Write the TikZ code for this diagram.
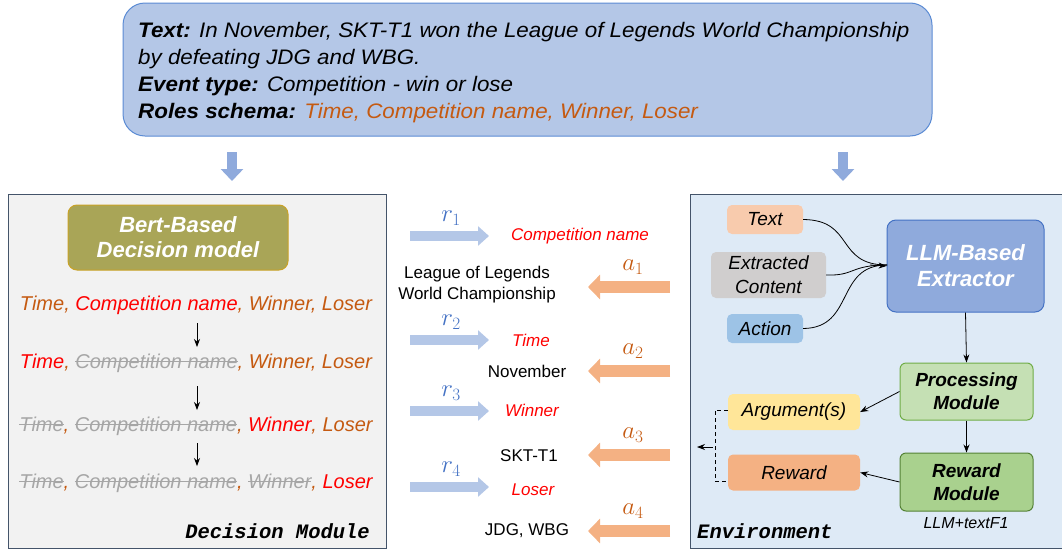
\documentclass[tikz,border=0pt]{standalone}
\usepackage{fontspec}
\setmainfont{Liberation Sans}
\setmonofont{Liberation Mono}
\usetikzlibrary{arrows.meta}
\newcommand\fsz[2]{\fontsize{#1}{#2}\selectfont}
\definecolor{topfill}{HTML}{B4C7E7}
\definecolor{topdraw}{HTML}{5B8BD4}
\definecolor{downblue}{HTML}{8FAADC}
\definecolor{panelL}{HTML}{F2F2F2}
\definecolor{panelR}{HTML}{DEEAF6}
\definecolor{paneldraw}{HTML}{44546A}
\definecolor{olive}{HTML}{A9A557}
\definecolor{olivedraw}{HTML}{C9A227}
\definecolor{roleor}{HTML}{C55A11}
\definecolor{rolered}{HTML}{FF0000}
\definecolor{rolegray}{HTML}{A6A6A6}
\definecolor{rblue}{HTML}{4472C4}
\definecolor{rarrow}{HTML}{B4C7E7}
\definecolor{aarrow}{HTML}{F4B183}
\definecolor{txtfill}{HTML}{F8CBAD}
\definecolor{extfill}{HTML}{D0CECE}
\definecolor{actfill}{HTML}{9DC3E6}
\definecolor{llmfill}{HTML}{8FAADC}
\definecolor{llmdraw}{HTML}{4472C4}
\definecolor{procfill}{HTML}{C5E0B4}
\definecolor{procdraw}{HTML}{70AD47}
\definecolor{rewmfill}{HTML}{A9D18E}
\definecolor{rewmdraw}{HTML}{548235}
\definecolor{argfill}{HTML}{FFE699}
\definecolor{rewfill}{HTML}{F4B183}
\newcommand\gs[1]{\textcolor{rolegray}{\setbox0\hbox{#1}\rlap{\rule[0.3em]{\wd0}{1.2pt}}\box0}}
\newcommand\ro[1]{\textcolor{roleor}{#1}}
\newcommand\rr[1]{\textcolor{rolered}{#1}}
\begin{document}
\begin{tikzpicture}[x=1pt,y=-1pt,
  panel/.style={draw=paneldraw, line width=1pt},
  smallbox/.style={rounded corners=5pt, inner sep=0pt, font=\fsz{19}{23}\itshape, align=center},
  modbox/.style={rounded corners=9pt, inner sep=0pt, line width=1pt, font=\fsz{20}{24}\bfseries\itshape, align=center},
  rarr/.style={rarrow, line width=10pt, -{Triangle[width=19pt,length=11pt]}},
  aarr/.style={aarrow, line width=12pt, -{Triangle[width=24pt,length=12pt]}},
  darr/.style={downblue, line width=10pt, -{Triangle[width=22pt,length=12pt]}},
  roles/.style={font=\fsz{20}{24}\itshape, inner sep=0pt},
  midred/.style={font=\fsz{17}{20}\itshape, text=rolered, inner sep=0pt},
  midblk/.style={font=\fsz{17}{21}, align=center, inner sep=0pt},
  conn/.style={-{Stealth[length=8pt,width=6pt]}, line width=0.8pt},
  mono/.style={font=\fsz{20.5}{24}\ttfamily\bfseries\itshape, inner sep=0pt},
  toptext/.style={anchor=base west, font=\fsz{21}{24}\itshape, inner sep=0pt, transform shape}
]
\useasboundingbox (0,0) rectangle (1062,549);
% top box
\draw[fill=topfill, draw=topdraw, line width=1pt, rounded corners=22pt] (123,3) rectangle (932,136);
\begin{scope}[shift={(138,0)}, xscale=1.065]
\node[toptext] (l1) at (0,37) {\textbf{Text:} In November, SKT-T1 won the League of Legends World Championship};
\node[toptext] (l2) at (0,64) {by defeating JDG and WBG.};
\node[toptext] (l3) at (0,91) {\textbf{Event type:} Competition - win or lose};
\node[toptext] (l4) at (0,118) {\textbf{Roles schema:} \ro{Time, Competition name, Winner, Loser}};
\end{scope}
% down arrows
\coordinate (d1s) at (232,152); \coordinate (d1e) at (232,181);
\coordinate (d2s) at (843,152); \coordinate (d2e) at (843,181);
\draw[darr] (d1s) -- (d1e);
\draw[darr] (d2s) -- (d2e);
% panels
\draw[panel, fill=panelL] (8,194) rectangle (386,548);
\draw[panel, fill=panelR] (690,194) rectangle (1066,548);
% Bert box
\node[modbox, fill=olive, draw=olivedraw, text=white, minimum width=220pt, minimum height=65pt, font=\fsz{22}{25}\bfseries\itshape] (bert) at (178,237.5) {Bert-Based\\Decision model};
% role rows
\node[roles] (row1) at (196,305) {\ro{Time,} \rr{Competition name}\ro{, Winner, Loser}};
\node[roles] (row2) at (196,363) {\rr{Time}\ro{,} \gs{Competition name}\ro{, Winner, Loser}};
\node[roles] (row3) at (196,426) {\gs{Time}\ro{,} \gs{Competition name}\ro{,} \rr{Winner}\ro{, Loser}};
\node[roles] (row4) at (196,483) {\gs{Time}\ro{,} \gs{Competition name}\ro{,} \gs{Winner}\ro{,} \rr{Loser}};
\draw[conn] (197,323) -- (197,347);
\draw[conn] (197,386) -- (197,410);
\draw[conn] (197,443) -- (197,466);
\node[mono, anchor=base east] (dm) at (370,538) {Decision Module};
% middle
\foreach \y/\i in {236/1,340/2,411/3,487/4}{
  \coordinate (rs\i) at (410,\y); \coordinate (re\i) at (489,\y);
  \draw[rarr] (rs\i) -- (re\i);
  \node[text=rblue, font=\fsz{24}{28}] (rl\i) at (451,\y-18) {$r_{\i}$};
}
\foreach \y/\i in {287/1,371/2,455/3,531/4}{
  \coordinate (as\i) at (670,\y); \coordinate (ae\i) at (588,\y);
  \draw[aarr] (as\i) -- (ae\i);
  \node[text=roleor, font=\fsz{26}{30}] (al\i) at (633,\y-20) {$a_{\i}$};
}
\node[midred] (m1) at (580,236) {Competition name};
\node[midred] (m2) at (531,340) {Time};
\node[midred] (m3) at (532,410) {Winner};
\node[midred] (m4) at (533,490) {Loser};
\node[midblk] (v1) at (477,285) {League of Legends\\World Championship};
\node[midblk] (v2) at (527,371) {November};
\node[midblk] (v3) at (529,456) {SKT-T1};
\node[midblk] (v4) at (527,531) {JDG, WBG};
% environment
\node[smallbox, fill=txtfill, minimum width=76pt, minimum height=29pt] (tx) at (765,219.5) {Text};
\node[smallbox, fill=extfill, minimum width=115pt, minimum height=46pt, font=\fsz{19}{24}\itshape] (ex) at (768.5,275) {Extracted\\Content};
\node[smallbox, fill=actfill, minimum width=76pt, minimum height=29pt] (ac) at (765,328.5) {Action};
\node[modbox, fill=llmfill, draw=llmdraw, text=white, minimum width=157pt, minimum height=92pt, font=\fsz{22}{26}\bfseries\itshape] (llm) at (965.5,266) {LLM-Based\\Extractor};
\node[modbox, fill=procfill, draw=procdraw, minimum width=133pt, minimum height=57pt, rounded corners=6pt, font=\fsz{19}{23}\bfseries\itshape] (pm) at (966.5,391.5) {Processing\\Module};
\node[modbox, fill=rewmfill, draw=rewmdraw, minimum width=133pt, minimum height=58pt, rounded corners=6pt, font=\fsz{19}{23}\bfseries\itshape] (rm) at (966.5,482) {Reward\\Module};
\node[font=\fsz{16}{18}\itshape, inner sep=0pt] (f1) at (966,523) {LLM+textF1};
\node[smallbox, fill=argfill, minimum width=132pt, minimum height=36pt] (arg) at (794,412) {Argument(s)};
\node[smallbox, fill=rewfill, minimum width=132pt, minimum height=36pt] (rw) at (794,472.5) {Reward};
\coordinate (join) at (887,265);
\draw[line width=0.8pt] (tx.east) .. controls (855,220) and (835,265) .. (join);
\draw[line width=0.8pt] (ex.east) .. controls (855,276) and (850,265) .. (join);
\draw[line width=0.8pt] (ac.east) .. controls (855,328) and (835,265) .. (join);
\draw[conn] (870,265) -- (llm.west);
\draw[conn] (llm.south) -- (pm.north);
\draw[conn] (pm.south) -- (rm.north);
\draw[conn] (pm.west) -- (arg.east);
\draw[conn] (rm.west) -- (rw.east);
\coordinate (dt) at (715,410);
\coordinate (db) at (715,481);
\coordinate (dm1) at (713,447);
\coordinate (dout) at (697,447);
\draw[dash pattern=on 4pt off 3pt, line width=0.8pt] (arg.west |- dt) -- (dt) -- (db) -- (rw.west |- db);
\draw[conn] (dm1) -- (dout);
\node[mono, anchor=base west] (env) at (697,538) {Environment};
\end{tikzpicture}
\end{document}
